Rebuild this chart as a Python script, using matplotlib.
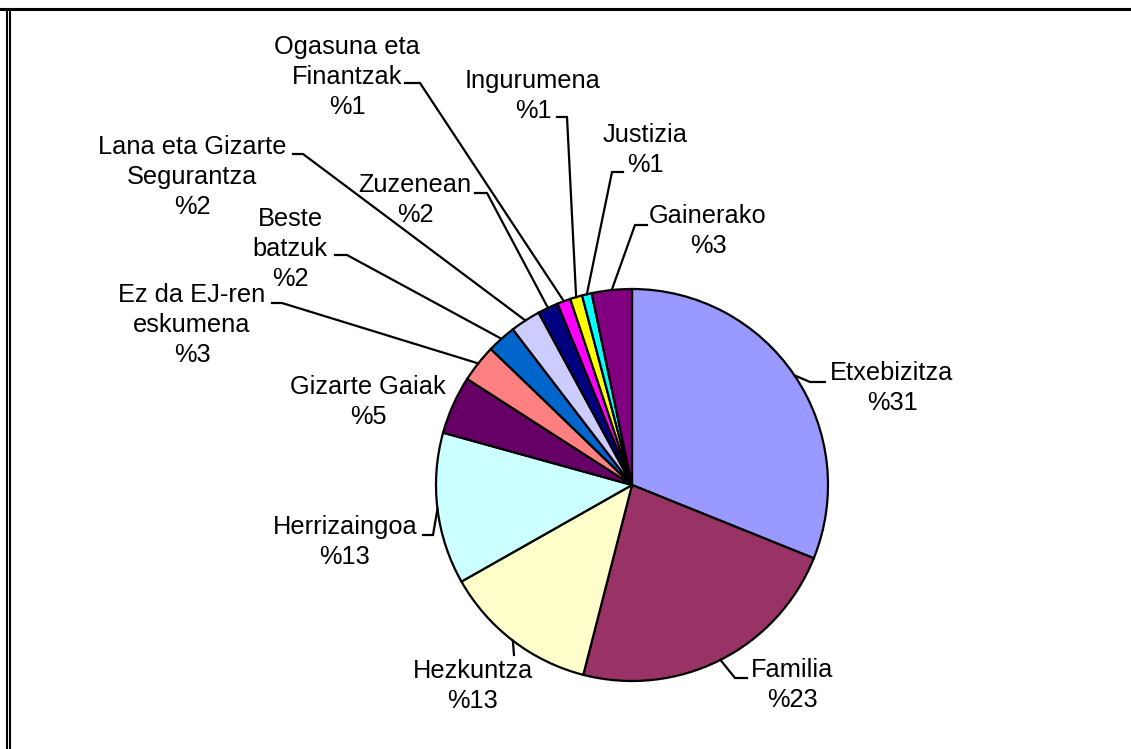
import matplotlib
matplotlib.use("Agg")
import matplotlib.pyplot as plt
import numpy as np

# ---- data ----
categories = ["Etxebizitza", "Familia", "Hezkuntza", "Herrizaingoa", "Gizarte Gaiak",
              "Ez da EJ-ren\neskumena", "Beste\nbatzuk", "Lana eta Gizarte\nSegurantza",
              "Zuzenean", "Ogasuna eta\nFinantzak", "Ingurumena", "Justizia", "Gainerako"]
values = [31.1, 22.9, 12.8, 12.5, 4.8, 3.1, 2.4, 2.5, 1.7, 1.1, 1.0, 0.8, 3.3]
pct_labels = ["%31", "%23", "%13", "%13", "%5", "%3", "%2", "%2", "%2", "%1", "%1", "%1", "%3"]
colors = ["#9999FF", "#993366", "#FFFFCC", "#CCFFFF", "#660066", "#FF8080", "#0066CC",
          "#CCCCFF", "#000080", "#FF00FF", "#FFFF00", "#00FFFF", "#800080"]

# ---- layout (pixel coordinates, y downward) ----
W, H = 1131, 749
CX, CY, R = 632, 485, 196
label_pos = [(892, 388), (792, 685), (473, 686), (345, 542), (368, 402),
             (192, 325), (290, 249), (192, 177), (415, 200), (347, 77),
             (533, 96), (645, 150), (708, 231)]
# (label end, elbow) for leader lines; None = no leader
leaders = [((825, 382), (810, 382)), ((747, 678), (735, 678)), ((514, 655), (514, 655)),
           ((423, 535), (433, 535)), None, ((272, 303), (282, 303)),
           ((335, 255), (347, 255)), ((293, 154), (303, 154)), ((475, 193), (487, 193)),
           ((405, 83), (420, 83)), ((557, 117), (567, 117)), ((623, 172), (612, 172)),
           ((647, 225), (635, 225))]

plt.rcParams['font.family'] = ['Liberation Sans', 'DejaVu Sans']

fig = plt.figure(figsize=(W / 100, H / 100), dpi=100)
fig.patch.set_facecolor("white")
ax = fig.add_axes([0, 0, 1, 1])

def py(y):
    return H - y

wedges, _ = ax.pie(values, colors=colors, startangle=90, counterclock=False,
                   center=(CX, py(CY)), radius=R,
                   wedgeprops=dict(edgecolor="black", linewidth=1.6))
ax.set_xlim(0, W)
ax.set_ylim(0, H)
ax.set_aspect("equal")
ax.axis("off")

for i, w in enumerate(wedges):
    (lx, ly) = label_pos[i]
    ax.text(lx, py(ly), categories[i] + "\n" + pct_labels[i], ha="center", va="center",
            fontsize=18.3, linespacing=1.3, color="black")
    if leaders[i] is not None:
        ang = np.deg2rad((w.theta1 + w.theta2) / 2)
        sx = CX + R * np.cos(ang)
        sy = py(CY) + R * np.sin(ang)
        (ex, ey), (bx, by) = leaders[i]
        ax.plot([ex, bx, sx], [py(ey), py(by), sy], color="black", lw=1.6,
                solid_joinstyle="miter")

# frame
ax.plot([0, W], [py(9), py(9)], color="black", lw=2.2, clip_on=False)
ax.plot([6.5, 6.5], [0, py(9)], color="black", lw=1.5, clip_on=False)
ax.plot([9.5, 9.5], [0, py(9)], color="black", lw=1.5, clip_on=False)

fig.savefig("out.png", dpi=100)
